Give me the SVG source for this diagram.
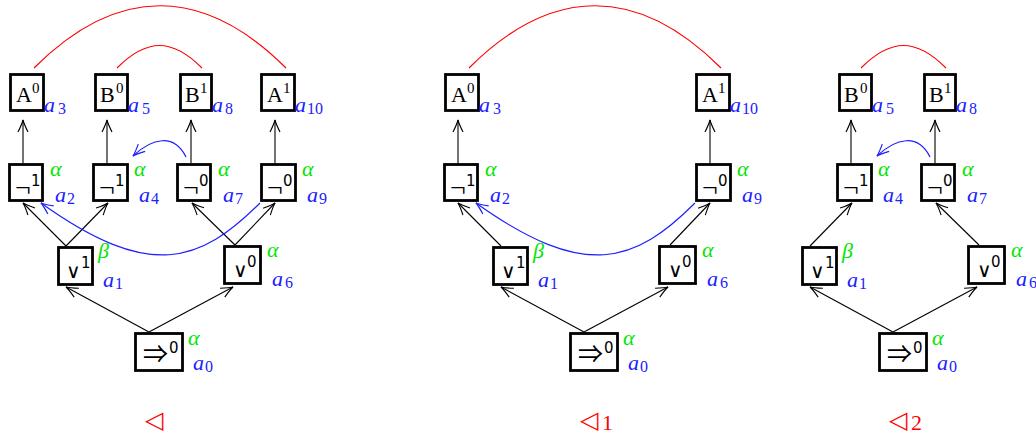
<svg xmlns="http://www.w3.org/2000/svg" width="1036" height="435" viewBox="0 0 1036 435">
  <defs>
    <style>
      .box { fill: #fff; stroke: #000; stroke-width: 2.8; }
      .rm { font-family: "Liberation Serif", serif; fill: #000; font-size: 22px; }
      .rsup { font-family: "Liberation Serif", serif; fill: #000; font-size: 15px; }
      .op { font-family: "Liberation Serif", serif; fill: #000; font-size: 28px; }
      .vee { font-family: "DejaVu Sans", sans-serif; fill: #000; font-size: 20px; }
      .imp { font-family: "Noto Sans CJK JP", "DejaVu Sans", sans-serif; fill: #000; font-size: 25px; }
      .osup { font-family: "DejaVu Sans", sans-serif; fill: #000; font-size: 15px; }
      .lbl { font-family: "Liberation Serif", serif; font-style: italic; fill: #2020ff; font-size: 22px; }
      .sub { font-family: "Liberation Serif", serif; fill: #2020ff; font-size: 16px; }
      .grk { font-family: "Liberation Serif", serif; font-style: italic; fill: #00e600; font-size: 22px; }
      .rel { font-family: "DejaVu Sans", sans-serif; fill: #f00; font-size: 24px; }
      .relsub { font-family: "Liberation Serif", serif; fill: #f00; font-size: 22px; }
      .edge { fill: none; stroke: #000; stroke-width: 1.1; marker-end: url(#ah); }
      .blue { fill: none; stroke: #2020ff; stroke-width: 1.2; marker-end: url(#ahb); }
      .red { fill: none; stroke: #f00; stroke-width: 1.2; }
    </style>
    <marker id="ah" viewBox="-14 -7 16 14" markerWidth="16" markerHeight="14" refX="0" refY="0" orient="auto" markerUnits="userSpaceOnUse">
      <path d="M-12,-5 Q-4,-1 0,0 Q-4,1 -12,5" fill="none" stroke="#000" stroke-width="1.1"/>
    </marker>
    <marker id="ahb" viewBox="-14 -7 16 14" markerWidth="16" markerHeight="14" refX="0" refY="0" orient="auto" markerUnits="userSpaceOnUse">
      <path d="M-12,-5 Q-4,-1 0,0 Q-4,1 -12,5" fill="none" stroke="#2020ff" stroke-width="1.2"/>
    </marker>
  </defs>
  <rect width="1036" height="435" fill="#fff"/>

  <!-- Full order -->
  <g id="order">
    <g id="order-edges">
      <path class="edge" d="M23,163 L23,120"/>
      <path class="edge" d="M107,163 L107,120"/>
      <path class="edge" d="M191,163 L191,120"/>
      <path class="edge" d="M275,163 L275,120"/>
      <path class="edge" d="M66,246 L23,203"/>
      <path class="edge" d="M66,246 L108,203"/>
      <path class="edge" d="M235,245 L192,203"/>
      <path class="edge" d="M235,245 L275,203"/>
      <path class="edge" d="M149,332 L66,287"/>
      <path class="edge" d="M149,332 L233,287"/>
      <path class="red" d="M34,68 C117,-15 203,-15 286,68"/>
      <path class="red" d="M117,68 C147,38 172,38 202,68"/>
      <path class="blue" d="M260,203 C200,263 150,281 41,203"/>
      <path class="blue" d="M186,157 C174,133 152,138 133,156"/>
    </g>
    <g id="o-a3"><rect class="box" x="10.5" y="74.5" width="33" height="36"/><text class="rm" x="16" y="102">A</text><text class="rsup" x="32" y="93">0</text><text class="lbl" x="44" y="112">a</text><text class="sub" x="58" y="114">3</text></g>
    <g id="o-a5"><rect class="box" x="95.5" y="74.5" width="32" height="36"/><text class="rm" x="100" y="102">B</text><text class="rsup" x="116" y="93">0</text><text class="lbl" x="128" y="112">a</text><text class="sub" x="142" y="114">5</text></g>
    <g id="o-a8"><rect class="box" x="180.5" y="74.5" width="31" height="36"/><text class="rm" x="185" y="102">B</text><text class="rsup" x="200" y="93">1</text><text class="lbl" x="212" y="112">a</text><text class="sub" x="225" y="114">8</text></g>
    <g id="o-a10"><rect class="box" x="261.5" y="74.5" width="33" height="36"/><text class="rm" x="267" y="102">A</text><text class="rsup" x="283" y="93">1</text><text class="lbl" x="295" y="112">a</text><text class="sub" x="307" y="114">10</text></g>
    <g id="o-a2"><rect class="box" x="9.5" y="164.5" width="33" height="36"/><text class="op" x="15" y="197">¬</text><text class="osup" x="31" y="186">1</text><text class="grk" x="50" y="176">α</text><text class="lbl" x="55" y="202">a</text><text class="sub" x="67" y="204">2</text></g>
    <g id="o-a4"><rect class="box" x="93.5" y="164.5" width="34" height="36"/><text class="op" x="99" y="197">¬</text><text class="osup" x="115" y="186">1</text><text class="grk" x="134" y="176">α</text><text class="lbl" x="139" y="202">a</text><text class="sub" x="151" y="204">4</text></g>
    <g id="o-a7"><rect class="box" x="177.5" y="164.5" width="33" height="36"/><text class="op" x="183" y="197">¬</text><text class="osup" x="199" y="186">0</text><text class="grk" x="218" y="176">α</text><text class="lbl" x="223" y="202">a</text><text class="sub" x="235" y="204">7</text></g>
    <g id="o-a9"><rect class="box" x="261.5" y="164.5" width="34" height="36"/><text class="op" x="267" y="197">¬</text><text class="osup" x="283" y="186">0</text><text class="grk" x="302" y="176">α</text><text class="lbl" x="307" y="202">a</text><text class="sub" x="319" y="204">9</text></g>
    <g id="o-a1"><rect class="box" x="58.5" y="247.5" width="34" height="37"/><text class="vee" x="66" y="278">∨</text><text class="osup" x="81" y="268">1</text><text class="grk" x="98" y="258">β</text><text class="lbl" x="103" y="287">a</text><text class="sub" x="115" y="289">1</text></g>
    <g id="o-a6"><rect class="box" x="224.5" y="246.5" width="36" height="37"/><text class="vee" x="233" y="277">∨</text><text class="osup" x="247" y="267">0</text><text class="grk" x="267" y="257">α</text><text class="lbl" x="272" y="286">a</text><text class="sub" x="285" y="288">6</text></g>
    <g id="o-a0"><rect class="box" x="135.5" y="333.5" width="47" height="37"/><text class="imp" x="143" y="363">⇒</text><text class="osup" x="169" y="353">0</text><text class="grk" x="188" y="345">α</text><text class="lbl" x="193" y="370">a</text><text class="sub" x="205" y="372">0</text></g>
    <text id="o-rel" class="rel" x="145" y="428">◁</text>
  </g>

  <!-- First component -->
  <g id="order1" transform="translate(435,0)">
    <g id="order1-edges">
      <path class="edge" d="M23,163 L23,120"/>
      <path class="edge" d="M275,163 L275,120"/>
      <path class="edge" d="M66,246 L23,203"/>
      <path class="edge" d="M235,245 L275,203"/>
      <path class="edge" d="M149,332 L66,287"/>
      <path class="edge" d="M149,332 L233,287"/>
      <path class="red" d="M34,68 C117,-15 203,-15 286,68"/>
      <path class="blue" d="M260,203 C200,263 150,281 41,203"/>
    </g>
    <g id="p-a3"><rect class="box" x="10.5" y="74.5" width="33" height="36"/><text class="rm" x="16" y="102">A</text><text class="rsup" x="32" y="93">0</text><text class="lbl" x="44" y="112">a</text><text class="sub" x="58" y="114">3</text></g>
    <g id="p-a10"><rect class="box" x="261.5" y="74.5" width="33" height="36"/><text class="rm" x="267" y="102">A</text><text class="rsup" x="283" y="93">1</text><text class="lbl" x="295" y="112">a</text><text class="sub" x="307" y="114">10</text></g>
    <g id="p-a2"><rect class="box" x="9.5" y="164.5" width="33" height="36"/><text class="op" x="15" y="197">¬</text><text class="osup" x="31" y="186">1</text><text class="grk" x="50" y="176">α</text><text class="lbl" x="55" y="202">a</text><text class="sub" x="67" y="204">2</text></g>
    <g id="p-a9"><rect class="box" x="261.5" y="164.5" width="34" height="36"/><text class="op" x="267" y="197">¬</text><text class="osup" x="283" y="186">0</text><text class="grk" x="302" y="176">α</text><text class="lbl" x="307" y="202">a</text><text class="sub" x="319" y="204">9</text></g>
    <g id="p-a1"><rect class="box" x="58.5" y="247.5" width="34" height="37"/><text class="vee" x="66" y="278">∨</text><text class="osup" x="81" y="268">1</text><text class="grk" x="98" y="258">β</text><text class="lbl" x="103" y="287">a</text><text class="sub" x="115" y="289">1</text></g>
    <g id="p-a6"><rect class="box" x="224.5" y="246.5" width="36" height="37"/><text class="vee" x="233" y="277">∨</text><text class="osup" x="247" y="267">0</text><text class="grk" x="267" y="257">α</text><text class="lbl" x="272" y="286">a</text><text class="sub" x="285" y="288">6</text></g>
    <g id="p-a0"><rect class="box" x="135.5" y="333.5" width="47" height="37"/><text class="imp" x="143" y="363">⇒</text><text class="osup" x="169" y="353">0</text><text class="grk" x="188" y="345">α</text><text class="lbl" x="193" y="370">a</text><text class="sub" x="205" y="372">0</text></g>
    <g id="p-rel"><text class="rel" x="145" y="428">◁</text><text class="relsub" x="167" y="430">1</text></g>
  </g>

  <!-- Second component -->
  <g id="order2" transform="translate(744,0)">
    <g id="order2-edges">
      <path class="edge" d="M107,163 L107,120"/>
      <path class="edge" d="M191,163 L191,120"/>
      <path class="edge" d="M66,246 L108,203"/>
      <path class="edge" d="M235,245 L192,203"/>
      <path class="edge" d="M149,332 L66,287"/>
      <path class="edge" d="M149,332 L233,287"/>
      <path class="red" d="M117,68 C147,38 172,38 202,68"/>
      <path class="blue" d="M186,157 C174,133 152,138 133,156"/>
    </g>
    <g id="q-a5"><rect class="box" x="95.5" y="74.5" width="32" height="36"/><text class="rm" x="100" y="102">B</text><text class="rsup" x="116" y="93">0</text><text class="lbl" x="128" y="112">a</text><text class="sub" x="142" y="114">5</text></g>
    <g id="q-a8"><rect class="box" x="180.5" y="74.5" width="31" height="36"/><text class="rm" x="185" y="102">B</text><text class="rsup" x="200" y="93">1</text><text class="lbl" x="212" y="112">a</text><text class="sub" x="225" y="114">8</text></g>
    <g id="q-a4"><rect class="box" x="93.5" y="164.5" width="34" height="36"/><text class="op" x="99" y="197">¬</text><text class="osup" x="115" y="186">1</text><text class="grk" x="134" y="176">α</text><text class="lbl" x="139" y="202">a</text><text class="sub" x="151" y="204">4</text></g>
    <g id="q-a7"><rect class="box" x="177.5" y="164.5" width="33" height="36"/><text class="op" x="183" y="197">¬</text><text class="osup" x="199" y="186">0</text><text class="grk" x="218" y="176">α</text><text class="lbl" x="223" y="202">a</text><text class="sub" x="235" y="204">7</text></g>
    <g id="q-a1"><rect class="box" x="58.5" y="247.5" width="34" height="37"/><text class="vee" x="66" y="278">∨</text><text class="osup" x="81" y="268">1</text><text class="grk" x="98" y="258">β</text><text class="lbl" x="103" y="287">a</text><text class="sub" x="115" y="289">1</text></g>
    <g id="q-a6"><rect class="box" x="224.5" y="246.5" width="36" height="37"/><text class="vee" x="233" y="277">∨</text><text class="osup" x="247" y="267">0</text><text class="grk" x="267" y="257">α</text><text class="lbl" x="272" y="286">a</text><text class="sub" x="285" y="288">6</text></g>
    <g id="q-a0"><rect class="box" x="135.5" y="333.5" width="47" height="37"/><text class="imp" x="143" y="363">⇒</text><text class="osup" x="169" y="353">0</text><text class="grk" x="188" y="345">α</text><text class="lbl" x="193" y="370">a</text><text class="sub" x="205" y="372">0</text></g>
    <g id="q-rel"><text class="rel" x="145" y="428">◁</text><text class="relsub" x="167" y="430">2</text></g>
  </g>
</svg>
